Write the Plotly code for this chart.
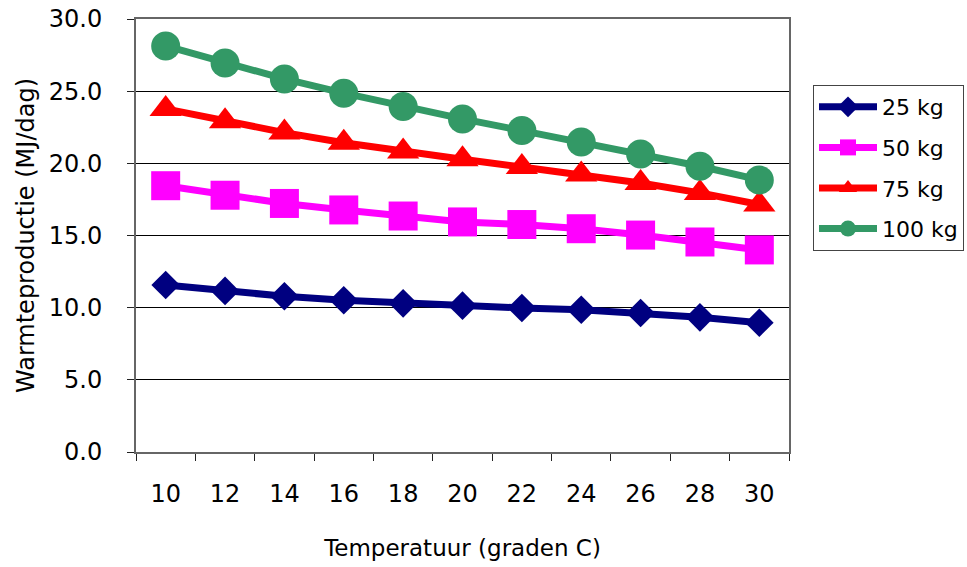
import plotly.graph_objects as go

temperatures = ["10", "12", "14", "16", "18", "20", "22", "24", "26", "28", "30"]
kg25 = [11.57, 11.16, 10.79, 10.51, 10.30, 10.14, 9.98, 9.86, 9.63, 9.33, 8.96]
kg50 = [18.45, 17.79, 17.22, 16.77, 16.35, 15.94, 15.76, 15.47, 15.03, 14.55, 14.00]
kg75 = [23.77, 22.92, 22.13, 21.43, 20.82, 20.28, 19.74, 19.23, 18.64, 17.95, 17.15]
kg100 = [28.13, 26.96, 25.85, 24.86, 23.93, 23.08, 22.27, 21.48, 20.65, 19.80, 18.85]

series = [
    ("25 kg", kg25, "#000080", "diamond", 22),
    ("50 kg", kg50, "#FF00FF", "square", 29),
    ("75 kg", kg75, "#FF0000", "triangle-up", 28),
    ("100 kg", kg100, "#339966", "circle", 29),
]

FONT = "DejaVu Sans"

fig = go.Figure()
for i, (name, vals, color, sym, size) in enumerate(series):
    fig.add_trace(go.Scatter(
        x=temperatures, y=vals, name=name, mode="lines+markers",
        line=dict(color=color, width=7),
        marker=dict(symbol=sym, size=size, color=color),
        legendgroup=str(i),
    ))

fig.update_layout(
    width=967, height=567, autosize=False,
    margin=dict(l=136, r=178, t=19, b=115),
    paper_bgcolor="white", plot_bgcolor="white",
    font=dict(family=FONT, size=24, color="black"),
    showlegend=True,
    legend=dict(
        xref="container", yref="container",
        x=813 / 967, xanchor="left", y=1 - 85 / 567, yanchor="top",
        bordercolor="#444444", borderwidth=1,
        font=dict(family=FONT, size=22, color="black"),
        tracegroupgap=9, itemwidth=58,
        bgcolor="white",
    ),
    xaxis=dict(
        type="category", range=[-0.5, 10.5], automargin=False,
        title=dict(text="Temperatuur (graden C)", font=dict(size=23), standoff=33),
        showgrid=False, showline=True, linecolor="#666666", linewidth=2, mirror=True,
        ticks="outside", tickson="boundaries", ticklen=7, tickcolor="#222222",
        ticklabelstandoff=19, zeroline=False,
    ),
    yaxis=dict(
        range=[0, 30], dtick=5, tickformat=".1f", automargin=False,
        title=dict(text="Warmteproductie (MJ/dag)", font=dict(size=24), standoff=7),
        showgrid=True, gridcolor="#000000", gridwidth=1,
        showline=True, linecolor="#666666", linewidth=2, mirror=True,
        ticks="outside", ticklen=7, tickcolor="#222222",
        ticklabelstandoff=20, zeroline=False,
    ),
)

fig.write_html(
    "out.html",
    config={"responsive": False, "displayModeBar": False},
    post_script="document.body.style.margin='0px';document.body.style.overflow='hidden';",
)
